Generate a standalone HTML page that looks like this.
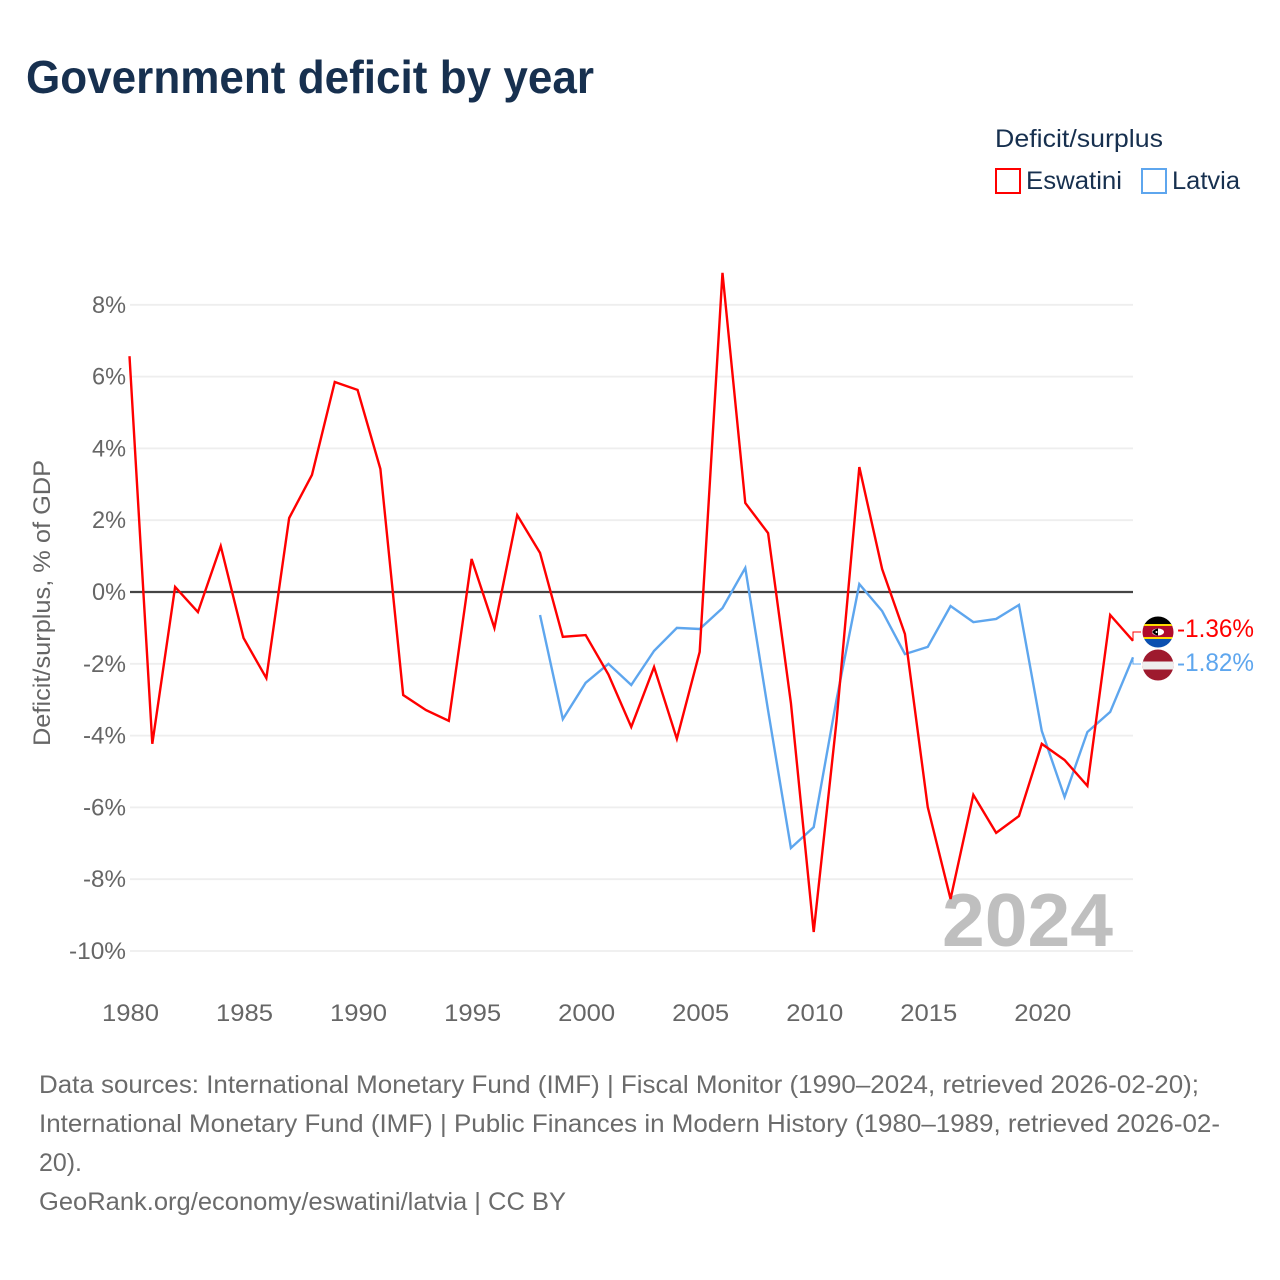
<!DOCTYPE html>
<html lang="en">
<head>
<meta charset="utf-8">
<title>Government deficit by year</title>
<style>
html,body{margin:0;padding:0;background:#fff;}
svg{display:block;font-family:"Liberation Sans",sans-serif;}
</style>
</head>
<body>
<svg id="chart" xmlns="http://www.w3.org/2000/svg" width="1280" height="1280" viewBox="0 0 1280 1280">
  <defs>
    <clipPath id="clip-flag-a"><circle cx="1158" cy="632" r="15.5"/></clipPath>
    <clipPath id="clip-flag-b"><circle cx="1158" cy="665" r="15.5"/></clipPath>
  </defs>
  <rect width="1280" height="1280" fill="#ffffff"/>
  <text x="26" y="93" font-size="46" font-weight="700" fill="#17304f" textLength="568" lengthAdjust="spacingAndGlyphs">Government deficit by year</text>

  <text x="995" y="147" font-size="25" fill="#17304f" textLength="168" lengthAdjust="spacingAndGlyphs">Deficit/surplus</text>
  <g>
    <rect x="996" y="169" width="24" height="24" fill="none" stroke="#ff0000" stroke-width="2"/>
    <text x="1026" y="189" font-size="25" fill="#17304f" textLength="96" lengthAdjust="spacingAndGlyphs">Eswatini</text>
  </g>
  <g>
    <rect x="1142" y="169" width="24" height="24" fill="none" stroke="#5ea6ee" stroke-width="2"/>
    <text x="1172" y="189" font-size="25" fill="#17304f" textLength="68" lengthAdjust="spacingAndGlyphs">Latvia</text>
  </g>

  <text transform="translate(50,603) rotate(-90)" text-anchor="middle" font-size="24" fill="#666666" textLength="286" lengthAdjust="spacingAndGlyphs">Deficit/surplus, % of GDP</text>

  <g id="grid"></g>
  <g id="yticks"></g>
  <g id="xticks"></g>

  <text x="942" y="946" font-size="75" font-weight="700" fill="#bfbfbf" textLength="171" lengthAdjust="spacingAndGlyphs">2024</text>

  <g id="series"></g>

  <g clip-path="url(#clip-flag-a)">
    <rect x="1142" y="616" width="32" height="10" fill="#000000"/>
    <rect x="1142" y="624" width="32" height="3" fill="#ffd900"/>
    <rect x="1142" y="626" width="32" height="12" fill="#b10c2c"/>
    <rect x="1142" y="637" width="32" height="2" fill="#ffd900"/>
    <rect x="1142" y="639" width="32" height="9" fill="#0b4fb0"/>
    <ellipse cx="1158" cy="632" rx="6" ry="3.5" fill="#ffffff"/>
    <path d="M1152 632 Q1155 628.500 1158 628.500 L1158 635.500 Q1155 635.500 1152 632Z" fill="#000000"/>
    <circle cx="1156.500" cy="632" r="1" fill="#ffffff"/>
  </g>
  <g clip-path="url(#clip-flag-b)">
    <rect x="1142" y="649" width="32" height="32" fill="#9e1a2e"/>
    <rect x="1142" y="661.5" width="32" height="8" fill="#eeeeee"/>
  </g>

  <text x="1177" y="637" font-size="25" fill="#ff0000" textLength="77" lengthAdjust="spacingAndGlyphs">-1.36%</text>
  <text x="1177" y="671" font-size="25" fill="#5ea6ee" textLength="77" lengthAdjust="spacingAndGlyphs">-1.82%</text>

  <g font-size="25" fill="#6b6b6b">
    <text x="39" y="1093" textLength="1160" lengthAdjust="spacingAndGlyphs">Data sources: International Monetary Fund (IMF) | Fiscal Monitor (1990–2024, retrieved 2026-02-20);</text>
    <text x="39" y="1132" textLength="1181" lengthAdjust="spacingAndGlyphs">International Monetary Fund (IMF) | Public Finances in Modern History (1980–1989, retrieved 2026-02-</text>
    <text x="39" y="1171" textLength="43" lengthAdjust="spacingAndGlyphs">20).</text>
    <text x="39" y="1210" textLength="527" lengthAdjust="spacingAndGlyphs">GeoRank.org/economy/eswatini/latvia | CC BY</text>
  </g>
</svg>
<script>
const years = [1980,1981,1982,1983,1984,1985,1986,1987,1988,1989,1990,1991,1992,1993,1994,1995,1996,1997,1998,1999,2000,2001,2002,2003,2004,2005,2006,2007,2008,2009,2010,2011,2012,2013,2014,2015,2016,2017,2018,2019,2020,2021,2022,2023,2024];
const eswatiniValues = [6.57,-4.23,0.14,-0.56,1.28,-1.28,-2.4,2.06,3.26,5.85,5.63,3.43,-2.87,-3.29,-3.59,0.92,-1.0,2.14,1.09,-1.25,-1.2,-2.3,-3.76,-2.09,-4.09,-1.67,8.89,2.48,1.64,-3.09,-9.47,-3.6,3.48,0.64,-1.17,-5.99,-8.55,-5.65,-6.71,-6.24,-4.23,-4.68,-5.4,-0.64,-1.36];
const latviaYears = [1998,1999,2000,2001,2002,2003,2004,2005,2006,2007,2008,2009,2010,2011,2012,2013,2014,2015,2016,2017,2018,2019,2020,2021,2022,2023,2024];
const latviaValues = [-0.64,-3.54,-2.53,-2.0,-2.59,-1.64,-1.0,-1.03,-0.45,0.67,-3.3,-7.13,-6.55,-3.0,0.22,-0.53,-1.73,-1.53,-0.39,-0.84,-0.75,-0.36,-3.87,-5.71,-3.9,-3.34,-1.82];
const yTicks = [8,6,4,2,0,-2,-4,-6,-8,-10];
const xTicks = [1980,1985,1990,1995,2000,2005,2010,2015,2020];

const NS = 'http://www.w3.org/2000/svg';
const xScale = function (year) { return 129.5 + (year - 1980) * (1133 - 129.5) / 44; };
const yScale = function (value) { return 592 - value * 35.9; };

function make(tag, parent) {
  const el = document.createElementNS(NS, tag);
  parent.appendChild(el);
  return el;
}

const gridGroup = document.getElementById('grid');
const yTickGroup = document.getElementById('yticks');
const xTickGroup = document.getElementById('xticks');
const seriesGroup = document.getElementById('series');

yTicks.forEach(function (tick) {
  const line = make('line', gridGroup);
  
  
  line.setAttribute('x1', 130);
  line.setAttribute('x2', 1133);
  line.setAttribute('y1', yScale(tick));
  line.setAttribute('y2', yScale(tick));
  line.setAttribute('stroke', tick === 0 ? '#444444' : '#eeeeee');
  line.setAttribute('stroke-width', tick === 0 ? 2.2 : 1.8);

  const label = make('text', yTickGroup);
  
  
  const str = tick + '%';
  const width = 20 + String(Math.abs(tick)).length * 14 + (tick < 0 ? 9 : 0);
  label.textContent = str;
  label.setAttribute('x', 126 - width);
  label.setAttribute('y', yScale(tick) + 8);
  label.setAttribute('font-size', 24);
  label.setAttribute('fill', '#666666');
  label.setAttribute('textLength', width);
  label.setAttribute('lengthAdjust', 'spacingAndGlyphs');
});

xTicks.forEach(function (tick) {
  const label = make('text', xTickGroup);
  
  
  label.textContent = tick;
  label.setAttribute('x', xScale(tick) - 27.5);
  label.setAttribute('y', 1021);
  label.setAttribute('font-size', 24);
  label.setAttribute('fill', '#666666');
  label.setAttribute('textLength', 57);
  label.setAttribute('lengthAdjust', 'spacingAndGlyphs');
});

function points(xs, ys) {
  return xs.map(function (x, i) { return xScale(x).toFixed(2) + ',' + yScale(ys[i]).toFixed(2); }).join(' ');
}

const latviaLine = make('polyline', seriesGroup);


latviaLine.setAttribute('points', points(latviaYears, latviaValues));
latviaLine.setAttribute('fill', 'none');
latviaLine.setAttribute('stroke', '#5ea6ee');
latviaLine.setAttribute('stroke-width', 2.4);

const eswatiniLine = make('polyline', seriesGroup);


eswatiniLine.setAttribute('points', points(years, eswatiniValues));
eswatiniLine.setAttribute('fill', 'none');
eswatiniLine.setAttribute('stroke', '#ff0000');
eswatiniLine.setAttribute('stroke-width', 2.4);

const lastEswatini = eswatiniValues[eswatiniValues.length - 1];
const lastLatvia = latviaValues[latviaValues.length - 1];

const connectorA = make('polyline', seriesGroup);


connectorA.setAttribute('points', '1133,' + yScale(lastEswatini) + ' 1133,632 1141,632');
connectorA.setAttribute('fill', 'none');
connectorA.setAttribute('stroke', '#ff0000');
connectorA.setAttribute('stroke-width', 1);

const connectorB = make('polyline', seriesGroup);


connectorB.setAttribute('points', '1133,' + yScale(lastLatvia) + ' 1133,664 1141,664');
connectorB.setAttribute('fill', 'none');
connectorB.setAttribute('stroke', '#5ea6ee');
connectorB.setAttribute('stroke-width', 1);
</script>
</body>
</html>
